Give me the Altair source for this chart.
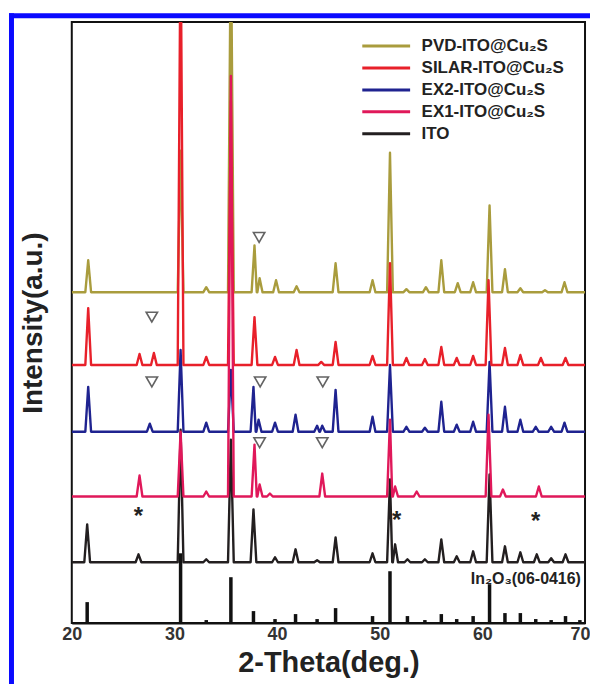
import altair as alt
import pandas as pd

FONT = "Liberation Sans"

# ---------------- data ----------------
series_names = ["PVD-ITO@Cu₂S", "SILAR-ITO@Cu₂S", "EX2-ITO@Cu₂S", "EX1-ITO@Cu₂S", "ITO"]
series_colors = ["#a99c3d", "#e8202a", "#1f2390", "#e0185a", "#231f20"]

# ITO (black)
ito_base = 61
ito_pos = [21.5, 26.5, 30.6, 33.1, 35.5, 37.7, 39.8, 41.8, 43.9, 45.7, 49.3, 51.0, 51.5,
           52.7, 54.4, 56.0, 57.5, 59.1, 60.7, 62.2, 63.7, 65.3, 66.7, 68.1]
ito_top = [99, 69, 194, 64, 184, 114, 66, 74, 63, 86, 70, 144, 79,
           64, 64, 84, 67, 72, 149, 77, 71, 69, 65, 69]

# EX1-ITO@Cu2S (crimson)
ex1_base = 127
ex1_pos = [26.6, 30.6, 33.1, 35.5, 37.8, 38.3, 39.3, 44.4, 51.0, 51.5, 53.6, 60.6, 62.0, 65.5]
ex1_top = [148, 192, 132, 549, 179, 139, 130, 150, 204, 137, 132, 209, 134, 137]

# EX2-ITO@Cu2S (navy)
ex2_base = 192
ex2_pos = [21.6, 27.6, 30.6, 33.1, 35.5, 37.7, 38.2, 39.8, 41.8, 43.9, 44.4, 45.7, 49.3,
           51.0, 52.6, 54.4, 56.0, 57.5, 59.1, 60.7, 62.2, 63.7, 65.2, 66.7, 68.0]
ex2_top = [237, 200, 274, 201, 254, 237, 204, 201, 209, 198, 198, 234, 207,
           259, 197, 196, 222, 199, 202, 262, 217, 204, 197, 197, 201]

# SILAR-ITO@Cu2S (red)
silar_base = 259
silar_pos = [21.6, 26.6, 28.0, 30.6, 33.1, 35.5, 37.8, 39.8, 41.9, 44.3, 45.7, 49.3, 51.0,
             52.6, 54.4, 56.0, 57.5, 59.1, 60.6, 62.2, 63.7, 65.7, 68.1]
silar_top = [316, 270, 271, 700, 267, 524, 307, 267, 274, 262, 282, 268, 361,
             266, 265, 277, 266, 268, 344, 276, 269, 266, 266]

# PVD-ITO@Cu2S (olive)
pvd_base = 332
pvd_pos = [21.6, 30.6, 33.1, 35.5, 37.8, 38.3, 39.9, 41.9, 45.7, 49.3, 51.0, 52.6, 54.5,
           56.0, 57.6, 59.1, 60.7, 62.2, 63.7, 66.1, 68.0]
pvd_top = [364, 474, 337, 700, 379, 346, 344, 338, 361, 344, 472, 335, 337,
           364, 341, 342, 419, 355, 336, 334, 342]

# In2O3 reference pattern (JCPDS 06-0416)
ref_pos = [21.5, 30.6, 33.1, 35.5, 37.7, 39.8, 41.8, 43.9, 45.7, 49.3, 51.0, 52.7, 54.4,
           56.0, 57.5, 59.1, 60.7, 62.2, 63.7, 65.2, 66.7, 68.1, 69.5]
ref_h = [21, 70, 3, 46, 12, 4, 9, 4, 15, 7, 52, 7, 3,
         9, 4, 7, 39, 10, 10, 4, 3, 7, 3]

# open-triangle markers
tri_x = [38.25, 27.8, 27.8, 38.35, 44.45, 38.3, 44.4]
tri_y = [387, 307, 242, 242, 242, 181, 181]

# asterisk markers
star_x = [26.5, 51.65, 65.2]
star_y = [112, 108, 107]

ref_label = "In₂O₃(06-0416)"
ref_label_x = [69.6]
ref_label_y = [44]

# ---------------- build tables ----------------
def trace(name, base, pos, top, hw=0.28):
    pts = [(20.0, base), (70.0, base)]
    for p, t in zip(pos, top):
        pts += [(p - hw, base), (p, t), (p + hw, base)]
    pts.sort()
    return pd.DataFrame({"series": name,
                         "two_theta": [p[0] for p in pts],
                         "intensity": [p[1] for p in pts],
                         "ord": list(range(len(pts)))})

traces = {
    "ITO": trace(series_names[4], ito_base, ito_pos, ito_top),
    "EX2": trace(series_names[2], ex2_base, ex2_pos, ex2_top),
    "PVD": trace(series_names[0], pvd_base, pvd_pos, pvd_top),
    "SILAR": trace(series_names[1], silar_base, silar_pos, silar_top),
    "EX1": trace(series_names[3], ex1_base, ex1_pos, ex1_top),
}

xscale = alt.Scale(domain=[20, 70], nice=False, zero=False)
yscale = alt.Scale(domain=[0, 603], nice=False, zero=False)

xaxis = alt.Axis(values=[20, 30, 40, 50, 60, 70], title="2-Theta(deg.)", grid=False,
                 ticks=False, domain=True, domainColor="#111", domainWidth=2,
                 labelFont=FONT, labelFontSize=18, labelFontWeight="bold", labelColor="#333",
                 labelPadding=3, labelFlush=False,
                 labelOffset={"condition": {"test": "datum.value === 70", "value": -5}, "value": 0},
                 titleFont=FONT, titleFontSize=29, titleFontWeight="bold", titleColor="#222",
                 titlePadding=5)
yaxis = alt.Axis(title="Intensity(a.u.)", labels=False, ticks=False, domain=False, grid=False,
                 titleFont=FONT, titleFontSize=28, titleFontWeight="bold", titleColor="#222",
                 titlePadding=24)

legend = alt.Legend(orient="none", legendX=290, legendY=13, title=None, direction="vertical",
                    symbolType="stroke", symbolSize=2304, symbolStrokeWidth=3, clipHeight=22,
                    labelFont=FONT, labelFontSize=17, labelFontWeight="bold", labelColor="#222",
                    labelOffset=10, padding=0, rowPadding=0, labelLimit=300)

color = alt.Color("series:N", scale=alt.Scale(domain=series_names, range=series_colors),
                  legend=legend)

def line_layer(df):
    return alt.Chart(df).mark_line(clip=True, strokeWidth=2.4, strokeJoin="round").encode(
        x=alt.X("two_theta:Q", scale=xscale, axis=xaxis),
        y=alt.Y("intensity:Q", scale=yscale, axis=yaxis),
        color=color,
        order="ord:Q",
    )

ref_df = pd.DataFrame({"pos": ref_pos, "h": ref_h})
bars = alt.Chart(ref_df).mark_rule(color="#111", strokeWidth=3.5).encode(
    x=alt.X("pos:Q", scale=xscale), y=alt.Y("h:Q", scale=yscale), y2=alt.datum(0))

tri_df = pd.DataFrame({"x": tri_x, "y": tri_y})
tris = alt.Chart(tri_df).mark_point(shape="triangle-down", filled=False, size=130,
                                    stroke="#222", strokeWidth=1.6).encode(
    x=alt.X("x:Q", scale=xscale), y=alt.Y("y:Q", scale=yscale))

star_df = pd.DataFrame({"x": star_x, "y": star_y})
stars = alt.Chart(star_df).mark_text(text="*", font=FONT, fontSize=24, fontWeight="bold",
                                     color="#222", baseline="middle", dy=6).encode(
    x=alt.X("x:Q", scale=xscale), y=alt.Y("y:Q", scale=yscale))

lab_df = pd.DataFrame({"x": ref_label_x, "y": ref_label_y, "t": [ref_label]})
lab = alt.Chart(lab_df).mark_text(font=FONT, fontSize=16, fontWeight="bold", color="#222",
                                  align="right", baseline="middle").encode(
    x=alt.X("x:Q", scale=xscale), y=alt.Y("y:Q", scale=yscale), text="t:N")

dummy = pd.DataFrame({"a": [0]})
blue_top = alt.Chart(dummy).mark_rule(color="#0a0aff", strokeWidth=5).encode(
    x=alt.value(-63), x2=alt.value(530), y=alt.value(-6.5))
blue_left = alt.Chart(dummy).mark_rule(color="#0a0aff", strokeWidth=5).encode(
    x=alt.value(-60.5), y=alt.value(-9), y2=alt.value(680))

chart = alt.layer(
    bars,
    line_layer(traces["ITO"]),
    line_layer(traces["EX2"]),
    line_layer(traces["PVD"]),
    line_layer(traces["SILAR"]),
    line_layer(traces["EX1"]),
    tris, stars, lab, blue_top, blue_left,
).properties(
    width=515, height=603,
    autosize=alt.AutoSizeParams(type="none"),
    padding={"left": 64, "top": 13, "right": 5, "bottom": 60},
    background="white",
).configure_view(stroke="#111", strokeWidth=2)

chart.save("out.html", embed_options={"renderer": "svg", "actions": False})
